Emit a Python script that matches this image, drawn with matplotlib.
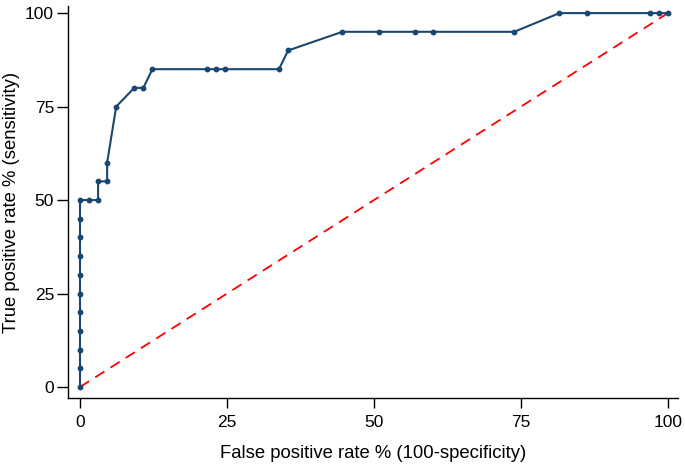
import matplotlib
matplotlib.use("Agg")
import matplotlib.pyplot as plt

plt.rcParams['font.family'] = ['Liberation Sans', 'DejaVu Sans']

# ROC curve data (65 negatives, 20 positives)
fpr = [0, 0, 0, 0, 0, 0, 0, 0, 0, 0, 0,
       1/65, 2/65, 2/65, 3/65, 3/65, 4/65, 6/65, 7/65, 8/65,
       14/65, 15/65, 16/65, 22/65, 23/65, 29/65, 33/65, 37/65, 39/65,
       48/65, 53/65, 56/65, 63/65, 64/65, 65/65]
fpr = [v * 100 for v in fpr]
tpr = [0, 5, 10, 15, 20, 25, 30, 35, 40, 45, 50,
       50, 50, 55, 55, 60, 75, 80, 80, 85,
       85, 85, 85, 85, 90, 95, 95, 95, 95,
       95, 100, 100, 100, 100, 100]
ticks = [0, 25, 50, 75, 100]

W, H = 685, 469
fig = plt.figure(figsize=(W/100, H/100), dpi=100)
ax = fig.add_axes([68/W, 71/H, 610/W, 392/H])

ax.plot([0, 100], [0, 100], color='#ff0000', linestyle=(0, (6, 4)), linewidth=1.3, zorder=2)
ax.plot(fpr, tpr, color='#1a476f', linewidth=1.5, marker='o', markersize=3.2, zorder=3)

ax.set_xlim(-2.04, 101.7)
ax.set_ylim(-2.94, 101.9)
ax.set_xticks(ticks)
ax.set_yticks(ticks)
ax.spines['top'].set_visible(False)
ax.spines['right'].set_visible(False)
for s in ['left', 'bottom']:
    ax.spines[s].set_color('black')
    ax.spines[s].set_linewidth(1.0)
ax.tick_params(axis='both', direction='out', width=1.0, labelsize=12.5, colors='black')
ax.tick_params(axis='x', length=7, pad=5)
ax.tick_params(axis='y', length=8, pad=2)
ax.set_xlabel('False positive rate % (100-specificity)', fontsize=13.3, labelpad=11)
ax.set_ylabel('True positive rate % (sensitivity)', fontsize=13.3, labelpad=3.5)

fig.savefig('out.png', dpi=100)
